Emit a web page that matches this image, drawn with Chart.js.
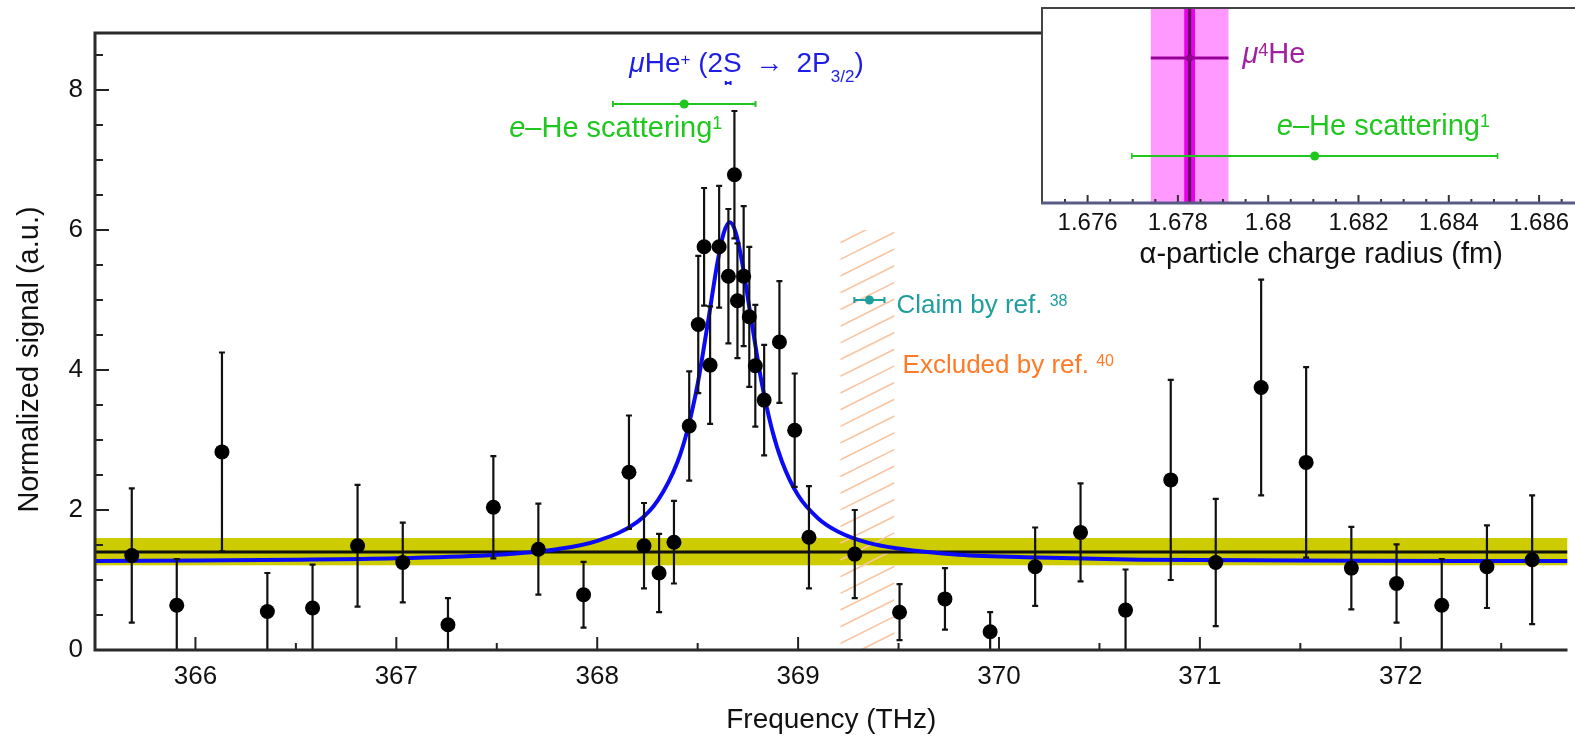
<!DOCTYPE html>
<html>
<head>
<meta charset="utf-8">
<script src="https://cdn.jsdelivr.net/npm/chart.js@4.4.1/dist/chart.umd.min.js"></script>
<style>
  html, body { margin: 0; padding: 0; background: #fff; overflow: hidden; }
  #wrap { position: relative; width: 1575px; height: 737px; overflow: hidden; }
  #mainChart { position: absolute; left: 0; top: 0; }
  #insetChart { position: absolute; left: 1030px; top: 0; }
</style>
</head>
<body>
<div id="wrap">
  <canvas id="mainChart" width="1575" height="737"></canvas>
  <canvas id="insetChart" width="575" height="290"></canvas>
</div>
<script>
const FONT = '"Liberation Sans", Arial, Helvetica, sans-serif';
Chart.defaults.font.family = FONT;
Chart.defaults.color = '#111';

// measured spectrum (THz, a.u.)
const freq = [365.683, 365.907, 366.132, 366.358, 366.583, 366.807, 367.032, 367.257, 367.483, 367.707, 367.932,
  368.158, 368.233, 368.308, 368.382, 368.458, 368.503, 368.532, 368.562, 368.607, 368.653, 368.683, 368.698,
  368.729, 368.757, 368.787, 368.831, 368.907, 368.983, 369.054, 369.282, 369.505, 369.731, 369.956, 370.180,
  370.406, 370.630, 370.855, 371.079, 371.305, 371.529, 371.754, 371.979, 372.204, 372.429, 372.654];
const signal = [1.35, 0.64, 2.83, 0.55, 0.60, 1.49, 1.25, 0.36, 2.04, 1.44, 0.79,
  2.54, 1.49, 1.10, 1.54, 3.20, 4.65, 5.76, 4.07, 5.76, 5.34, 6.79, 4.99,
  5.34, 4.76, 4.06, 3.57, 4.40, 3.14, 1.61, 1.37, 0.54, 0.73, 0.26, 1.19,
  1.68, 0.57, 2.43, 1.25, 3.75, 2.68, 1.17, 0.95, 0.64, 1.19, 1.29];
const signalErr = [0.96, 0.66, 1.42, 0.55, 0.62, 0.87, 0.57, 0.38, 0.73, 0.65, 0.47,
  0.81, 0.61, 0.56, 0.59, 0.78, 0.98, 0.84, 0.84, 0.87, 0.96, 0.91, 0.82,
  1.00, 1.00, 0.87, 0.79, 0.87, 0.81, 0.73, 0.63, 0.40, 0.44, 0.28, 0.56,
  0.70, 0.58, 1.43, 0.91, 1.54, 1.36, 0.59, 0.56, 0.66, 0.59, 0.92];

// fitted line shape
const fitFreq = [365.5, 366.0, 366.5, 367.0, 367.5, 367.8, 368.0, 368.2, 368.3, 368.4, 368.45, 368.5, 368.55,
  368.6, 368.63, 368.66, 368.69, 368.72, 368.77, 368.82, 368.87, 368.92, 369.0, 369.1, 369.2, 369.35, 369.5,
  369.8, 370.2, 370.7, 371.5, 372.3, 372.83];
const fitSignal = [1.27, 1.28, 1.29, 1.31, 1.36, 1.44, 1.56, 1.83, 2.13, 2.69, 3.15, 3.80, 4.66,
  5.56, 5.96, 6.11, 5.96, 5.56, 4.66, 3.80, 3.15, 2.69, 2.21, 1.88, 1.69, 1.53, 1.45,
  1.36, 1.32, 1.29, 1.28, 1.27, 1.27];

// flat background and its band
const background = 1.40;
const backgroundBand = [1.21, 1.60];

// other references
const excludedRange = [369.21, 369.48];
const excludedTop = 6.0;
const claimFreq = 369.355, claimFreqErr = 0.075, claimY = 5.0;
const eHeFreq = 368.433, eHeFreqErr = 0.355, eHeY = 7.8;
const muHeFreq = 368.652, muHeFreqErr = 0.012, muHeY = 8.1;

const xRange = [365.5, 372.83];
const yRange = [0, 8.814];
const xTicks = [366, 367, 368, 369, 370, 371, 372];
const xMinorTicks = [366.5, 367.5, 368.5, 369.5, 370.5, 371.5, 372.5];
const yTicks = [0, 2, 4, 6, 8];
const yMinorTicks = [0.5, 1, 1.5, 2.5, 3, 3.5, 4.5, 5, 5.5, 6.5, 7, 7.5, 8.5];

// inset: alpha-particle charge radius (fm)
const insetRange = [1.67499, 1.68736];
const insetTicks = [1.676, 1.678, 1.680, 1.682, 1.684, 1.686];
const insetTickLabels = ['1.676', '1.678', '1.68', '1.682', '1.684', '1.686'];
const insetMinorTicks = [1.6755, 1.6765, 1.677, 1.6775, 1.6785, 1.679, 1.6795, 1.6805, 1.681, 1.6815,
  1.6825, 1.683, 1.6835, 1.6845, 1.685, 1.6855, 1.6865, 1.687];
const muRadius = 1.67826, muRadiusErr = 0.00086, muRadiusStat = 0.00012, muRadiusY = 0.744;
const eHeRadius = 1.68103, eHeRadiusErr = 0.00405, eHeRadiusY = 0.241;

const GREEN = '#1fc71f';

function drawRuns(ctx, x, y, runs, color, size) {
  let cx = x;
  ctx.fillStyle = color;
  ctx.textBaseline = 'alphabetic';
  ctx.textAlign = 'left';
  runs.forEach(r => {
    const s = r.small ? Math.round(size * 0.62) : size;
    ctx.font = (r.italic ? 'italic ' : '') + s + 'px ' + FONT;
    let dy = 0;
    if (r.sup) dy = -0.716 * (size - s);
    if (r.sub) dy = size * 0.33;
    ctx.fillText(r.t, cx, y + dy);
    cx += ctx.measureText(r.t).width;
  });
}

const mainLabels = [
  { x: 368.16, y: 8.25, size: 28, color: '#1d1de6',
    runs: [{ t: 'μ', italic: true }, { t: 'He' }, { t: '+', sup: true, small: true }, { t: ' (2S \u2009→\u2009 2P' },
      { t: '3/2', sub: true, small: true }, { t: ')' }] },
  { x: 367.562, y: 7.33, size: 29, color: GREEN,
    runs: [{ t: 'e', italic: true }, { t: '–He scattering' }, { t: '1', sup: true, small: true }] },
  { x: 369.49, y: 4.81, size: 26, color: '#1f9e9e',
    runs: [{ t: 'Claim by ref. ' }, { t: '38', sup: true, small: true }] },
  { x: 369.52, y: 3.96, size: 26, color: '#ff7a26',
    runs: [{ t: 'Excluded by ref. ' }, { t: '40', sup: true, small: true }] }
];

function hBar(ctx, x0, x1, y, cap) {
  ctx.moveTo(x0, y); ctx.lineTo(x1, y);
  ctx.moveTo(x0, y - cap); ctx.lineTo(x0, y + cap);
  ctx.moveTo(x1, y - cap); ctx.lineTo(x1, y + cap);
}

const mainBackdrop = {
  id: 'mainBackdrop',
  beforeDatasetsDraw(chart) {
    const { ctx, chartArea: a, scales: { x, y } } = chart;
    ctx.save();
    ctx.beginPath();
    ctx.rect(a.left, a.top, a.right - a.left, a.bottom - a.top);
    ctx.clip();
    // background band
    const b0 = y.getPixelForValue(backgroundBand[1]);
    const b1 = y.getPixelForValue(backgroundBand[0]);
    ctx.fillStyle = '#cccc00';
    ctx.fillRect(a.left, b0, a.right - a.left, b1 - b0);
    // hatched excluded region
    const hx0 = x.getPixelForValue(excludedRange[0]);
    const hx1 = x.getPixelForValue(excludedRange[1]);
    const hy0 = y.getPixelForValue(excludedTop);
    const hy1 = y.getPixelForValue(0);
    ctx.beginPath();
    ctx.rect(hx0, hy0, hx1 - hx0, hy1 - hy0);
    ctx.clip();
    ctx.strokeStyle = '#f9c4a0';
    ctx.lineWidth = 1.6;
    const w = hx1 - hx0;
    ctx.beginPath();
    for (let c = hy0 - 4; c < hy1 + w * 0.5 + 20; c += 16.7) {
      ctx.moveTo(hx0, c);
      ctx.lineTo(hx1, c - w * 0.5);
    }
    ctx.stroke();
    ctx.restore();
  },
  beforeDatasetDraw(chart, args) {
    const ds = chart.data.datasets[args.index];
    const { ctx, chartArea: a, scales: { x, y } } = chart;
    ctx.save();
    ctx.beginPath();
    ctx.rect(a.left, a.top, a.right - a.left, a.bottom - a.top);
    ctx.clip();
    if (ds.label === 'Data') {
      ctx.strokeStyle = '#111';
      ctx.lineWidth = 2.2;
      ctx.beginPath();
      freq.forEach((f, i) => {
        const px = x.getPixelForValue(f);
        const top = y.getPixelForValue(signal[i] + signalErr[i]);
        const bot = y.getPixelForValue(signal[i] - signalErr[i]);
        ctx.moveTo(px, top); ctx.lineTo(px, bot);
        ctx.moveTo(px - 3, top); ctx.lineTo(px + 3, top);
        ctx.moveTo(px - 3, bot); ctx.lineTo(px + 3, bot);
      });
      ctx.stroke();
    } else if (ds.label === 'eHe') {
      ctx.strokeStyle = GREEN;
      ctx.lineWidth = 2;
      ctx.beginPath();
      hBar(ctx, x.getPixelForValue(eHeFreq - eHeFreqErr), x.getPixelForValue(eHeFreq + eHeFreqErr), y.getPixelForValue(eHeY), 3);
      ctx.stroke();
    } else if (ds.label === 'Claim') {
      ctx.strokeStyle = '#1f9e9e';
      ctx.lineWidth = 2;
      ctx.beginPath();
      hBar(ctx, x.getPixelForValue(claimFreq - claimFreqErr), x.getPixelForValue(claimFreq + claimFreqErr), y.getPixelForValue(claimY), 3);
      ctx.stroke();
    }
    ctx.restore();
  },
  afterDatasetsDraw(chart) {
    const { ctx, scales: { x, y } } = chart;
    ctx.save();
    // tiny muonic helium bar under the label
    ctx.strokeStyle = '#1d1de6';
    ctx.lineWidth = 2;
    ctx.beginPath();
    hBar(ctx, x.getPixelForValue(muHeFreq - muHeFreqErr), x.getPixelForValue(muHeFreq + muHeFreqErr), y.getPixelForValue(muHeY), 2);
    ctx.stroke();
    mainLabels.forEach(l => drawRuns(ctx, x.getPixelForValue(l.x), y.getPixelForValue(l.y), l.runs, l.color, l.size));
    ctx.restore();
  },
  afterDraw(chart) {
    const { ctx, chartArea: a, scales: { x, y } } = chart;
    ctx.save();
    ctx.strokeStyle = '#222';
    ctx.lineWidth = 2;
    ctx.beginPath();
    xTicks.forEach(v => { const p = x.getPixelForValue(v); ctx.moveTo(p, a.bottom); ctx.lineTo(p, a.bottom - 13); });
    xMinorTicks.forEach(v => { const p = x.getPixelForValue(v); ctx.moveTo(p, a.bottom); ctx.lineTo(p, a.bottom - 7); });
    yTicks.forEach(v => { const p = y.getPixelForValue(v); ctx.moveTo(a.left, p); ctx.lineTo(a.left + 14, p); });
    yMinorTicks.forEach(v => { const p = y.getPixelForValue(v); ctx.moveTo(a.left, p); ctx.lineTo(a.left + 8, p); });
    ctx.stroke();
    ctx.strokeStyle = '#2a2a2a';
    ctx.lineWidth = 3;
    ctx.beginPath();
    ctx.moveTo(a.right, a.top); ctx.lineTo(a.left, a.top);
    ctx.lineTo(a.left, a.bottom); ctx.lineTo(a.right, a.bottom);
    ctx.stroke();
    // y axis title, a little below the centre of the axis as in the original
    ctx.translate(30, (a.top + a.bottom) / 2 + 18);
    ctx.rotate(-Math.PI / 2);
    ctx.font = '29px ' + FONT;
    ctx.fillStyle = '#111';
    ctx.textAlign = 'center';
    ctx.textBaseline = 'middle';
    ctx.fillText('Normalized signal (a.u.)', 0, 0);
    ctx.restore();
  }
};

new Chart(document.getElementById('mainChart'), {
  type: 'scatter',
  data: {
    datasets: [
      { label: 'Background', data: xRange.map(v => ({ x: v, y: background })), showLine: true,
        borderColor: '#111', borderWidth: 3, pointRadius: 0, order: 5 },
      { label: 'Fit', data: fitFreq.map((f, i) => ({ x: f, y: fitSignal[i] })), showLine: true,
        borderColor: '#0a0af5', borderWidth: 4, pointRadius: 0, cubicInterpolationMode: 'monotone', order: 4 },
      { label: 'eHe', data: [{ x: eHeFreq, y: eHeY }], pointRadius: 4.5, pointBackgroundColor: GREEN,
        pointBorderWidth: 0, order: 3 },
      { label: 'Claim', data: [{ x: claimFreq, y: claimY }], pointRadius: 4.5, pointBackgroundColor: '#1f9e9e',
        pointBorderWidth: 0, order: 2 },
      { label: 'Data', data: freq.map((f, i) => ({ x: f, y: signal[i] })), pointRadius: 7.5,
        pointBackgroundColor: '#000', pointBorderWidth: 0, order: 1 }
    ]
  },
  options: {
    responsive: false,
    animation: false,
    layout: { padding: { top: 33, left: 0, right: 0, bottom: 0 } },
    plugins: { legend: { display: false }, tooltip: { enabled: false } },
    scales: {
      x: {
        type: 'linear', min: xRange[0], max: xRange[1],
        afterBuildTicks: s => { s.ticks = xTicks.map(v => ({ value: v })); },
        afterFit: s => { s.height = 87; s.paddingLeft = 0; s.paddingRight = 0; },
        grid: { display: false, drawTicks: false },
        border: { display: false },
        ticks: { font: { size: 26 }, color: '#111', padding: 11, maxRotation: 0 },
        title: { display: true, text: 'Frequency (THz)', font: { size: 28 }, color: '#111', padding: { top: 0, bottom: 0 } }
      },
      y: {
        type: 'linear', min: yRange[0], max: yRange[1],
        afterBuildTicks: s => { s.ticks = yTicks.map(v => ({ value: v })); },
        afterFit: s => { s.width = 95; },
        grid: { display: false, drawTicks: false },
        border: { display: false },
        ticks: { font: { size: 26 }, color: '#111', padding: 12 }
      }
    }
  },
  plugins: [mainBackdrop]
});

const insetFrame = {
  id: 'insetFrame',
  beforeDatasetsDraw(chart) {
    const { ctx, chartArea: a, scales: { x } } = chart;
    ctx.save();
    ctx.fillStyle = '#fff';
    ctx.fillRect(a.left, a.top, a.right - a.left, a.bottom - a.top);
    const b0 = x.getPixelForValue(muRadius - muRadiusErr);
    const b1 = x.getPixelForValue(muRadius + muRadiusErr);
    ctx.fillStyle = '#ff99ff';
    ctx.fillRect(b0, a.top, b1 - b0, a.bottom - a.top);
    const s0 = x.getPixelForValue(muRadius - muRadiusStat);
    const s1 = x.getPixelForValue(muRadius + muRadiusStat);
    ctx.fillStyle = '#e800e8';
    ctx.fillRect(s0, a.top, s1 - s0, a.bottom - a.top);
    const c = x.getPixelForValue(muRadius);
    ctx.strokeStyle = '#5c005c';
    ctx.lineWidth = 3;
    ctx.beginPath();
    ctx.moveTo(c, a.top); ctx.lineTo(c, a.bottom);
    ctx.stroke();
    ctx.restore();
  },
  afterDatasetsDraw(chart) {
    const { ctx, scales: { x, y } } = chart;
    ctx.save();
    ctx.strokeStyle = GREEN;
    ctx.lineWidth = 1.5;
    ctx.beginPath();
    [eHeRadius - eHeRadiusErr, eHeRadius + eHeRadiusErr].forEach(v => {
      const p = x.getPixelForValue(v), q = y.getPixelForValue(eHeRadiusY);
      ctx.moveTo(p, q - 3); ctx.lineTo(p, q + 3);
    });
    ctx.stroke();
    drawRuns(ctx, x.getPixelForValue(1.67943), y.getPixelForValue(0.716),
      [{ t: 'μ', italic: true }, { t: '4', sup: true, small: true }, { t: 'He' }], '#a0209f', 29);
    drawRuns(ctx, x.getPixelForValue(1.68019), y.getPixelForValue(0.349),
      [{ t: 'e', italic: true }, { t: '–He scattering' }, { t: '1', sup: true, small: true }], GREEN, 29);
    ctx.restore();
  },
  afterDraw(chart) {
    const { ctx, chartArea: a, scales: { x } } = chart;
    ctx.save();
    ctx.strokeStyle = '#333';
    ctx.lineWidth = 2;
    ctx.beginPath();
    insetTicks.forEach(v => { const p = x.getPixelForValue(v); ctx.moveTo(p, a.bottom); ctx.lineTo(p, a.bottom - 8); });
    insetMinorTicks.forEach(v => { const p = x.getPixelForValue(v); ctx.moveTo(p, a.bottom); ctx.lineTo(p, a.bottom - 4); });
    ctx.stroke();
    ctx.strokeStyle = '#444';
    ctx.lineWidth = 2;
    ctx.beginPath();
    ctx.moveTo(a.right, a.top); ctx.lineTo(a.left, a.top); ctx.lineTo(a.left, a.bottom);
    ctx.stroke();
    ctx.strokeStyle = '#5a5a86';
    ctx.lineWidth = 3;
    ctx.beginPath();
    ctx.moveTo(a.left - 1, a.bottom); ctx.lineTo(a.right, a.bottom);
    ctx.stroke();
    ctx.restore();
  }
};

new Chart(document.getElementById('insetChart'), {
  type: 'scatter',
  data: {
    datasets: [
      { label: 'muBar', data: [{ x: muRadius - muRadiusErr, y: muRadiusY }, { x: muRadius + muRadiusErr, y: muRadiusY }],
        showLine: true, borderColor: '#990099', borderWidth: 3, pointRadius: 0 },
      { label: 'muPoint', data: [{ x: muRadius, y: muRadiusY }], pointRadius: 3.5, pointBackgroundColor: '#7a007a', pointBorderWidth: 0 },
      { label: 'eHeBar', data: [{ x: eHeRadius - eHeRadiusErr, y: eHeRadiusY }, { x: eHeRadius + eHeRadiusErr, y: eHeRadiusY }],
        showLine: true, borderColor: GREEN, borderWidth: 2, pointRadius: 0 },
      { label: 'eHePoint', data: [{ x: eHeRadius, y: eHeRadiusY }], pointRadius: 4.5, pointBackgroundColor: GREEN, pointBorderWidth: 0 }
    ]
  },
  options: {
    responsive: false,
    animation: false,
    layout: { padding: { top: 8, left: 12, right: 0, bottom: 0 } },
    plugins: { legend: { display: false }, tooltip: { enabled: false } },
    scales: {
      x: {
        type: 'linear', min: insetRange[0], max: insetRange[1],
        afterBuildTicks: s => { s.ticks = insetTicks.map(v => ({ value: v })); },
        afterFit: s => { s.height = 87; s.paddingLeft = 0; s.paddingRight = 0; },
        grid: { display: false, drawTicks: false },
        border: { display: false },
        ticks: { font: { size: 24 }, color: '#111', padding: 6, maxRotation: 0,
          callback: (v, i) => insetTickLabels[i] },
        title: { display: true, text: 'α-particle charge radius (fm)', font: { size: 29 }, color: '#111',
          padding: { top: 0, bottom: 18 } }
      },
      y: { display: false, min: 0, max: 1 }
    }
  },
  plugins: [insetFrame]
});
</script>
</body>
</html>
